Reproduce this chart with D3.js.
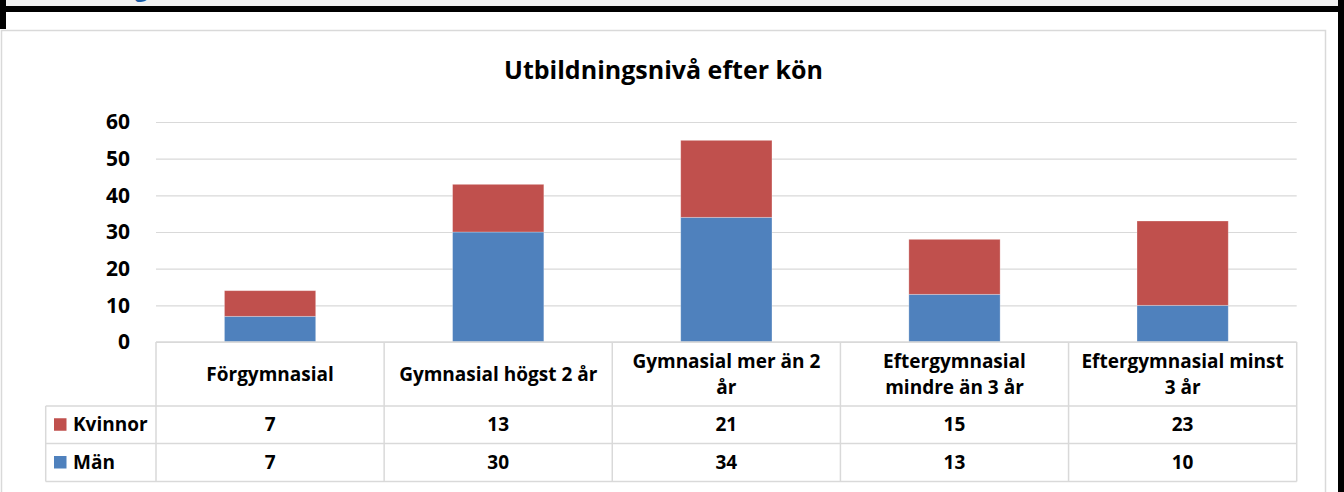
<!DOCTYPE html>
<html>
<head>
<meta charset="utf-8">
<script src="https://cdn.jsdelivr.net/npm/d3@7"></script>
<style>
  html, body { margin: 0; padding: 0; background: #fff; }
  svg { display: block; font-family: "Open Sans", Lato, sans-serif; }
</style>
</head>
<body>
<svg id="chart" width="1344" height="492"></svg>
<script>
// Chart data
const categories = ['Förgymnasial', 'Gymnasial högst 2 år', 'Gymnasial mer än 2 år',
                    'Eftergymnasial mindre än 3 år', 'Eftergymnasial minst 3 år'];
// header lines as they wrap in the data table
const categoryLines = [
    ['Förgymnasial'],
    ['Gymnasial högst 2 år'],
    ['Gymnasial mer än 2', 'år'],
    ['Eftergymnasial', 'mindre än 3 år'],
    ['Eftergymnasial minst', '3 år']
];
const seriesNames = ['Män', 'Kvinnor'];
const man = [7, 30, 34, 13, 10];
const kvinnor = [7, 13, 21, 15, 23];
const yTicks = [0, 10, 20, 30, 40, 50, 60];
const title = 'Utbildningsnivå efter kön';

const colors = { 'Män': '#4f81bd', 'Kvinnor': '#c0504d' };
const gridColor = '#d9d9d9';

const svg = d3.select('#chart');

// Page frame around the chart (cut-off document around it)
svg.append('rect').attr('x', 6).attr('y', 0).attr('width', 1332).attr('height', 6).attr('fill', '#f0f0f0');
svg.append('clipPath').attr('id', 'topStrip')
    .append('rect').attr('x', 0).attr('y', 0).attr('width', 1344).attr('height', 6);
svg.append('text')
    .attr('clip-path', 'url(#topStrip)')
    .attr('x', 135).attr('y', -3)
    .attr('font-size', 22).attr('font-weight', 'bold')
    .attr('fill', '#1c5fa8')
    .text('g');
svg.append('rect').attr('x', 0).attr('y', 6).attr('width', 1344).attr('height', 6).attr('fill', '#000');
svg.append('rect').attr('x', 0).attr('y', 0).attr('width', 6).attr('height', 29).attr('fill', '#000');
svg.append('rect').attr('x', 1338).attr('y', 0).attr('width', 6).attr('height', 492).attr('fill', '#000');

// Chart area border
svg.append('rect')
    .attr('x', 1.5).attr('y', 30.5)
    .attr('width', 1324).attr('height', 480)
    .attr('fill', '#fff')
    .attr('stroke', gridColor)
    .attr('stroke-width', 1.5);

// Title
svg.append('text')
    .attr('x', 663.5).attr('y', 79)
    .attr('text-anchor', 'middle')
    .attr('font-size', 25).attr('font-weight', 'bold')
    .attr('fill', '#000')
    .text(title);

const plotLeft = 156, plotRight = 1296.7;
const plotTop = 122, plotBottom = 342;

const x = d3.scaleBand()
    .domain(categories)
    .range([plotLeft, plotRight])
    .paddingInner(0.6)
    .paddingOuter(0.3);

const y = d3.scaleLinear()
    .domain([0, 60])
    .range([plotBottom, plotTop]);

// Gridlines + y labels
const yAxis = svg.append('g')
    .attr('transform', `translate(${plotLeft},0)`)
    .call(d3.axisLeft(y)
        .tickValues(yTicks)
        .tickSize(-(plotRight - plotLeft))
        .tickPadding(26));
yAxis.select('.domain').remove();
yAxis.selectAll('line').attr('stroke', gridColor).attr('stroke-width', 1.2);
yAxis.selectAll('text')
    .attr('font-size', 21).attr('font-weight', 'bold')
    .attr('fill', '#000')
    .attr('font-family', '"Open Sans", sans-serif');

// Stacked bars
const rows = categories.map((c, i) => ({ category: c, 'Män': man[i], 'Kvinnor': kvinnor[i] }));
const stacked = d3.stack().keys(seriesNames)(rows);

svg.append('g').selectAll('g')
    .data(stacked)
    .enter()
    .append('g')
    .attr('fill', d => colors[d.key])
    .selectAll('rect')
    .data(d => d)
    .enter()
    .append('rect')
    .attr('x', d => x(d.data.category))
    .attr('y', d => y(d[1]))
    .attr('width', x.bandwidth())
    .attr('height', d => y(d[0]) - y(d[1]))
    .attr('stroke', 'rgba(255,255,255,0.35)')
    .attr('stroke-width', 0.8);

// Data table below the plot
const headerTop = plotBottom, headerBottom = 406;
const row1Bottom = 443.5, row2Bottom = 481.5;
const legendLeft = 45.7;
const colStep = x.step();
const colEdges = categories.map((c, i) => plotLeft + i * colStep).concat([plotRight]);

const table = svg.append('g')
    .attr('stroke', gridColor)
    .attr('stroke-width', 1.5)
    .attr('fill', 'none');

// horizontal lines
table.append('line').attr('x1', plotLeft).attr('x2', plotRight).attr('y1', headerTop).attr('y2', headerTop);
[headerBottom, row1Bottom, row2Bottom].forEach(yy => {
    table.append('line').attr('x1', legendLeft).attr('x2', plotRight).attr('y1', yy).attr('y2', yy);
});
// vertical lines
colEdges.forEach(xx => {
    table.append('line').attr('x1', xx).attr('x2', xx).attr('y1', headerTop).attr('y2', row2Bottom);
});
table.append('line').attr('x1', legendLeft).attr('x2', legendLeft).attr('y1', headerBottom).attr('y2', row2Bottom);

// header labels
const headerMid = (headerTop + headerBottom) / 2;
const lineHeight = 26;
const headers = svg.append('g')
    .attr('font-size', 19).attr('font-weight', 'bold').attr('fill', '#000')
    .attr('text-anchor', 'middle');
categoryLines.forEach((lines, i) => {
    const cx = x(categories[i]) + x.bandwidth() / 2;
    lines.forEach((ln, j) => {
        headers.append('text')
            .attr('x', cx)
            .attr('y', headerMid + (j - (lines.length - 1) / 2) * lineHeight)
            .attr('dy', '0.35em')
            .text(ln);
    });
});

// value rows: Kvinnor first, then Män
const tableRows = [
    { name: 'Kvinnor', values: kvinnor, top: headerBottom, bottom: row1Bottom },
    { name: 'Män', values: man, top: row1Bottom, bottom: row2Bottom }
];
tableRows.forEach(r => {
    const mid = (r.top + r.bottom) / 2;
    const g = svg.append('g').attr('font-size', 19).attr('font-weight', 'bold').attr('fill', '#000');
    g.append('rect')
        .attr('x', 54).attr('y', mid - 6.5)
        .attr('width', 12.5).attr('height', 12.5)
        .attr('fill', colors[r.name]);
    g.append('text')
        .attr('x', 73).attr('y', mid).attr('dy', '0.35em')
        .text(r.name);
    g.selectAll('.val')
        .data(r.values)
        .enter()
        .append('text')
        .attr('class', 'val')
        .attr('x', (d, i) => x(categories[i]) + x.bandwidth() / 2)
        .attr('y', mid).attr('dy', '0.35em')
        .attr('text-anchor', 'middle')
        .text(d => d);
});
</script>
</body>
</html>
